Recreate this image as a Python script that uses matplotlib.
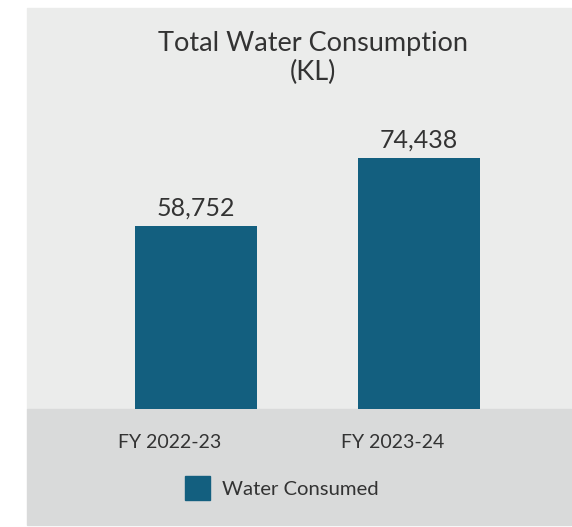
import matplotlib.pyplot as plt
import matplotlib.patches as mpatches
from matplotlib.transforms import ScaledTranslation

categories = ['FY 2022-23', 'FY 2023-24']
values = [58752, 74438]
series_name = 'Water Consumed'
title = 'Total Water Consumption\n(KL)'

bar_color = '#135F7F'
bg_top = '#EBECEB'
bg_bottom = '#D9DADA'
text_color = '#333333'

plt.rcParams['font.family'] = ['Lato', 'DejaVu Sans']

W, H = 572, 527
fig = plt.figure(figsize=(W / 100, H / 100), dpi=100)
fig.patch.set_facecolor('white')

# panel backgrounds (figure pixels -> fractions)
px = lambda x: x / W
py = lambda y: 1 - y / H
fig.patches.append(mpatches.Rectangle((px(27), py(409)), px(571) - px(27), py(8) - py(409),
                                      transform=fig.transFigure, color=bg_top, zorder=-5))
fig.patches.append(mpatches.Rectangle((px(27), py(525)), px(571) - px(27), py(409) - py(525),
                                      transform=fig.transFigure, color=bg_bottom, zorder=-5))

ax = fig.add_axes([px(27), py(409), px(571) - px(27), py(8) - py(409)])
ax.set_facecolor('none')
x = list(range(len(categories)))
bars = ax.bar(x, values, width=0.547, color=bar_color, zorder=3)
ax.set_xlim(-0.759, 1.681)
ax.set_ylim(16540, 16540 + 401 / 0.004335)

for b, v in zip(bars, values):
    ax.annotate(f'{v:,}', (b.get_x() + b.get_width() / 2, v), xytext=(0, 4.5),
                textcoords='offset points', ha='center', va='bottom',
                fontsize=18, color=text_color)

ax.set_xticks(x)
ax.set_xticklabels(categories, fontsize=14, color=text_color)
ax.tick_params(axis='x', length=0, pad=18)
offset = ScaledTranslation(-27 / 100, 0, fig.dpi_scale_trans)
for lab in ax.get_xticklabels():
    lab.set_transform(lab.get_transform() + offset)
ax.set_yticks([])
for s in ax.spines.values():
    s.set_visible(False)

fig.text(px(313), py(58), title, ha='center', va='center', fontsize=19.5,
         color=text_color, linespacing=1.15)

handle = mpatches.Patch(color=bar_color, label=series_name)
fig.legend(handles=[handle], loc='center', bbox_to_anchor=(px(282), py(488)),
           frameon=False, fontsize=14.6, handlelength=1.23, handleheight=1.38,
           handletextpad=0.58, labelcolor=text_color)

fig.savefig('out.png', dpi=100)
